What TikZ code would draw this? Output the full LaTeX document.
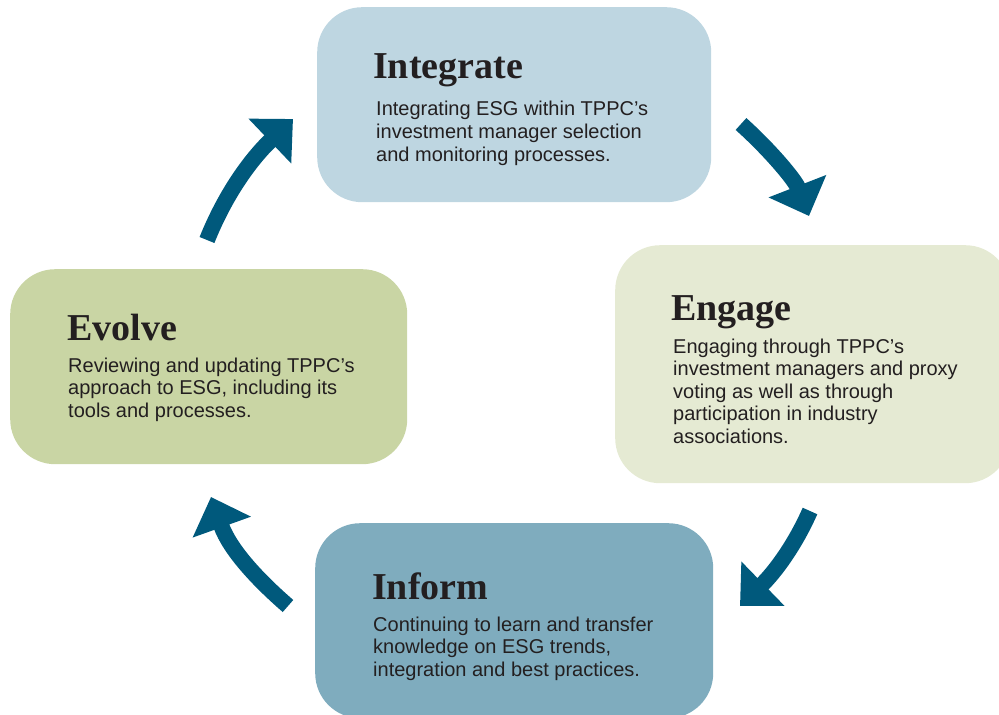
\documentclass[tikz,border=0pt]{standalone}
\usepackage{fontspec}
\setmainfont{Liberation Sans}
\newfontfamily\headfont{Liberation Serif}
\usetikzlibrary{arrows.meta}
\definecolor{cInt}{HTML}{BED6E1}
\definecolor{cEng}{HTML}{E5EAD3}
\definecolor{cEvo}{HTML}{C9D5A4}
\definecolor{cInf}{HTML}{7FACBE}
\definecolor{arrowc}{HTML}{00597C}
\definecolor{ink}{HTML}{231F20}
\begin{document}
\begin{tikzpicture}[x=1pt,y=-1pt,
  box/.style={rounded corners=45pt, inner sep=0pt, anchor=north west},
  head/.style={anchor=base west, inner sep=0pt, font=\headfont\bfseries\fontsize{38}{42}\selectfont, text=ink},
  body/.style={anchor=base west, inner sep=0pt, align=left, font=\fontsize{20}{22.5}\selectfont, text=ink},
  cyc/.style={draw=arrowc, line width=16pt, -{Triangle[width=60pt,length=32pt]}}]
\useasboundingbox (0,0) rectangle (999,715);
\clip (0,0) rectangle (999,715);
% boxes
\node[box, fill=cInt, minimum width=394pt, minimum height=195pt] (integrate) at (317,7) {};
\node[box, fill=cEng, minimum width=395pt, minimum height=238pt] (engage) at (615,245) {};
\node[box, fill=cEvo, minimum width=397pt, minimum height=195pt] (evolve) at (10,269) {};
\node[box, fill=cInf, minimum width=398pt, minimum height=195pt] (inform) at (315,523) {};
% texts (body anchors at the baseline of the last line)
\node[head] (hInt) at (373,78) {Integrate};
\node[body, font=\fontsize{20}{23}\selectfont] (bInt) at (376,161) {Integrating ESG within TPPC’s\\investment manager selection\\and monitoring processes.};
\node[head] (hEng) at (671,320) {Engage};
\node[body] (bEng) at (673,443) {Engaging through TPPC’s\\investment managers and proxy\\voting as well as through\\participation in industry\\associations.};
\node[head] (hEvo) at (67,340) {Evolve};
\node[body] (bEvo) at (68,417) {Reviewing and updating TPPC’s\\approach to ESG, including its\\tools and processes.};
\node[head] (hInf) at (372,599) {Inform};
\node[body] (bInf) at (373,676) {Continuing to learn and transfer\\knowledge on ESG trends,\\integration and best practices.};
% arrows
\coordinate (a1s) at (207,240); \coordinate (a1e) at (293,119);
\coordinate (a2s) at (741,124); \coordinate (a2e) at (809,216);
\coordinate (a3s) at (810,511); \coordinate (a3e) at (740,606);
\coordinate (a4s) at (288,606); \coordinate (a4e) at (211,497);
\draw[cyc] (a1s) .. controls (225,195) and (250,160) .. (a1e);
\draw[cyc] (a2s) .. controls (770,150) and (795,180) .. (a2e);
\draw[cyc] (a3s) .. controls (795,545) and (775,572) .. (a3e);
\draw[cyc] (a4s) .. controls (258,580) and (230,550) .. (a4e);
\end{tikzpicture}
\end{document}
